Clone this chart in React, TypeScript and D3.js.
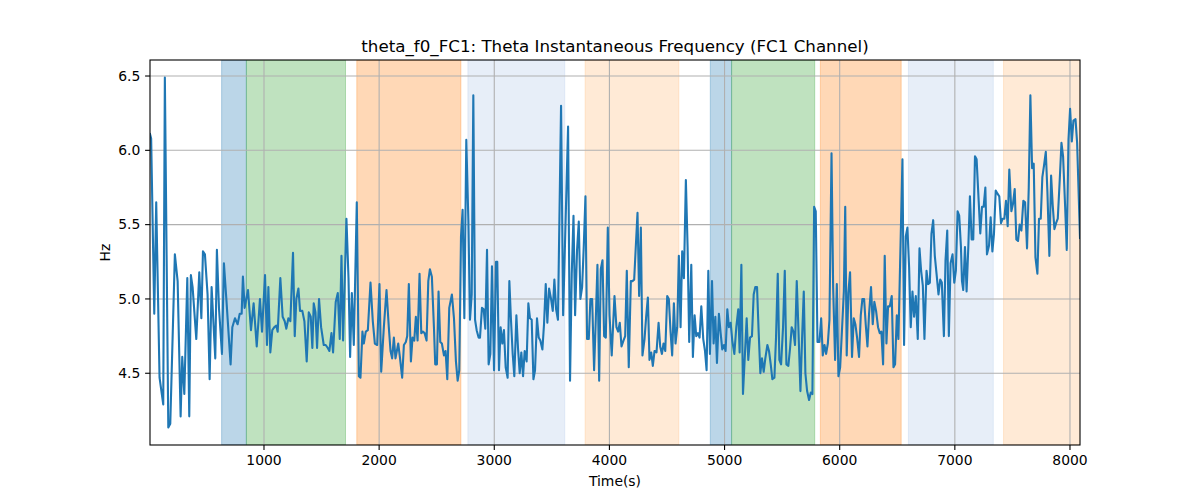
import { useEffect } from "react"
import * as d3 from "d3"

// time (s), instantaneous frequency (Hz)
const samples: [number, number][] = [
  [10, 6.11], [20, 6.08], [47, 4.9], [64, 5.65], [93, 4.47], [125, 4.29], [139, 6.49], [169, 4.135], [186, 4.16],
  [226, 5.3], [250, 5.12], [276, 4.21], [290, 4.61], [308, 4.36], [334, 5.14], [351, 4.21], [365, 5.16], [380, 5.08],
  [412, 4.73], [438, 5.18], [456, 4.87], [470, 5.32], [487, 5.3], [510, 5.03], [528, 4.46], [545, 5.08], [577, 4.6],
  [591, 5.33], [609, 4.94], [635, 4.63], [652, 5.24], [673, 5.0], [710, 4.56], [725, 4.81], [748, 4.87], [771, 4.83],
  [789, 4.9], [806, 4.9], [817, 5.15], [832, 4.94], [861, 5.06], [887, 4.79], [910, 4.97], [937, 4.68], [965, 5.0],
  [983, 4.78], [1009, 5.16], [1026, 4.69],
  [1038, 5.08], [1055, 4.64], [1072, 4.79], [1090, 4.81], [1107, 4.82], [1119, 4.78], [1142, 5.14], [1162, 4.88],
  [1180, 4.85], [1194, 4.8], [1212, 4.87], [1229, 4.85], [1252, 5.31], [1267, 4.75], [1281, 5.0], [1299, 5.07],
  [1313, 4.92], [1333, 4.92], [1351, 4.85], [1371, 4.58], [1389, 4.91], [1406, 4.88], [1420, 4.67], [1432, 4.97],
  [1447, 4.91], [1461, 4.67], [1478, 5.0], [1496, 4.81], [1519, 4.69], [1536, 4.69], [1554, 4.67], [1568, 4.65],
  [1586, 4.77], [1600, 4.64], [1623, 4.98], [1641, 5.04], [1658, 4.73], [1673, 5.29], [1687, 4.72], [1716, 5.54],
  [1734, 5.14], [1748, 4.61], [1763, 5.04], [1780, 4.69], [1806, 5.65], [1824, 4.48], [1838, 4.47], [1855, 4.78],
  [1867, 4.7], [1884, 4.78], [1902, 4.79], [1925, 5.11], [1945, 4.85], [1963, 4.7], [1983, 4.69], [2003, 5.1],
  [2018, 4.51],
  [2041, 4.81], [2064, 5.06], [2084, 4.81], [2099, 4.65], [2113, 4.6], [2128, 4.74], [2142, 4.6], [2166, 4.7],
  [2180, 4.61], [2200, 4.47], [2215, 4.69], [2232, 4.71], [2244, 4.75], [2258, 5.1], [2276, 4.58], [2290, 4.74],
  [2305, 4.72], [2319, 4.88], [2334, 4.72], [2351, 5.17], [2366, 4.77], [2380, 4.78], [2395, 4.77], [2412, 4.72],
  [2427, 5.12], [2441, 5.2], [2458, 5.15], [2476, 4.81], [2487, 4.56], [2502, 4.56], [2516, 5.05], [2531, 4.71],
  [2545, 4.7], [2563, 4.62], [2577, 4.65], [2592, 4.46], [2609, 4.94], [2632, 5.03], [2650, 4.87], [2667, 4.58],
  [2682, 4.45], [2696, 4.52], [2711, 5.42], [2725, 5.6], [2740, 4.87], [2757, 6.07], [2775, 5.53], [2789, 4.86],
  [2804, 5.03], [2818, 6.37], [2833, 4.86], [2847, 4.79], [2864, 4.74], [2876, 4.74], [2893, 4.94], [2908, 4.93],
  [2922, 4.8], [2937, 5.33], [2951, 4.56], [2966, 4.63], [2980, 5.22], [2998, 4.52], [3015, 5.25], [3026, 5.25],
  [3041, 4.52],
  [3055, 4.81], [3070, 4.7], [3084, 4.79], [3099, 4.54], [3116, 4.47], [3131, 5.12], [3145, 4.86], [3160, 4.63],
  [3174, 4.48], [3192, 4.89], [3206, 4.67], [3221, 4.5], [3235, 4.64], [3250, 4.48], [3264, 4.65], [3281, 4.58],
  [3296, 4.97], [3310, 4.87], [3325, 4.86], [3340, 4.46], [3354, 4.52], [3371, 4.87], [3386, 4.74], [3400, 4.72],
  [3418, 4.66], [3432, 4.83], [3447, 5.1], [3461, 4.84], [3476, 5.07], [3493, 5.0], [3508, 4.92], [3522, 5.13],
  [3537, 4.93], [3553, 4.86], [3580, 6.3], [3598, 4.89], [3641, 6.16], [3658, 4.45], [3673, 5.17], [3688, 5.56],
  [3702, 4.89], [3719, 5.33], [3734, 5.52], [3748, 5.0], [3763, 5.08], [3777, 5.35], [3792, 5.69], [3806, 4.73],
  [3821, 4.73], [3835, 5.0], [3850, 5.0], [3867, 4.52], [3882, 4.87], [3896, 5.23], [3911, 4.45], [3925, 5.2],
  [3940, 5.26], [3954, 4.75], [3969, 4.74], [3986, 5.48], [4001, 4.89], [4020, 4.62], [4044, 5.02],
  [4061, 4.81], [4076, 4.78], [4090, 4.84], [4105, 4.68], [4122, 4.72], [4137, 4.75], [4151, 5.19], [4168, 4.54],
  [4186, 5.12], [4200, 5.12], [4215, 5.13], [4229, 5.35], [4244, 5.58], [4258, 5.02], [4273, 5.48], [4287, 4.62],
  [4305, 4.73], [4319, 4.88], [4334, 5.01], [4348, 4.59], [4363, 4.64], [4377, 4.55], [4392, 4.65], [4409, 4.64],
  [4427, 4.84], [4441, 4.68], [4456, 4.63], [4470, 4.7], [4485, 4.65], [4502, 5.02], [4516, 5.0], [4531, 4.78],
  [4545, 4.62], [4560, 4.97], [4574, 4.7], [4589, 4.81], [4603, 5.29], [4618, 4.81], [4632, 5.32], [4647, 5.14],
  [4664, 5.8], [4679, 5.35], [4693, 4.71], [4711, 5.23], [4725, 4.61], [4740, 4.89], [4754, 4.75], [4769, 4.77],
  [4783, 4.74], [4798, 4.95], [4815, 4.73], [4830, 4.65], [4844, 4.52], [4859, 5.19], [4873, 4.63], [4891, 5.12],
  [4905, 4.7], [4920, 4.88], [4934, 4.57], [4951, 4.9], [4966, 4.77], [4980, 4.66], [4995, 4.69], [5009, 4.65],
  [5024, 4.93],
  [5038, 4.81], [5053, 4.84], [5067, 4.72], [5085, 4.63], [5102, 4.81], [5119, 4.93], [5131, 4.64], [5146, 5.23],
  [5160, 4.36], [5177, 4.63], [5192, 4.87], [5206, 4.59], [5221, 4.74], [5238, 4.75], [5253, 5.03], [5267, 5.08],
  [5282, 5.08], [5296, 4.78], [5311, 4.5], [5325, 4.6], [5340, 4.51], [5354, 4.6], [5372, 4.69], [5386, 4.65],
  [5401, 4.56], [5415, 4.46], [5433, 4.47], [5447, 4.74], [5462, 5.17], [5476, 4.59], [5491, 4.56], [5508, 4.81],
  [5523, 5.19], [5537, 4.56], [5554, 4.55], [5569, 4.67], [5583, 4.81], [5598, 4.78], [5612, 4.69], [5627, 5.12],
  [5641, 4.81], [5659, 4.38], [5673, 4.73], [5688, 5.05], [5702, 4.5], [5717, 4.38], [5734, 4.32], [5749, 4.37],
  [5763, 4.36], [5778, 5.62], [5792, 5.59], [5807, 4.71], [5824, 4.71], [5839, 4.87], [5853, 4.62], [5868, 4.69],
  [5882, 4.63], [5897, 4.7], [5911, 4.86], [5929, 5.98], [5943, 5.08], [5960, 4.59], [5975, 5.1], [5989, 4.48],
  [6004, 4.54], [6021, 4.81], [6036, 5.05], [6048, 5.62],
  [6061, 4.62], [6075, 5.04], [6090, 5.18], [6107, 4.61], [6122, 4.87], [6136, 4.83], [6151, 4.74], [6168, 4.61],
  [6183, 4.89], [6197, 5.0], [6212, 5.0], [6226, 4.83], [6241, 4.68], [6255, 4.9], [6272, 5.08], [6287, 4.83],
  [6301, 4.98], [6316, 4.92], [6333, 4.81], [6348, 4.77], [6362, 4.78], [6377, 4.56], [6391, 5.29], [6406, 4.7],
  [6420, 4.95], [6435, 4.95], [6452, 5.02], [6467, 4.54], [6481, 4.56], [6496, 4.89], [6510, 4.73], [6525, 5.25],
  [6545, 5.94], [6559, 4.69], [6574, 5.42], [6588, 5.48], [6603, 5.21], [6617, 4.81], [6632, 5.05], [6646, 4.88],
  [6661, 5.02], [6678, 4.73], [6693, 5.34], [6707, 5.19], [6722, 5.09], [6736, 4.73], [6754, 5.19], [6768, 5.1],
  [6783, 5.11], [6797, 5.44], [6812, 5.53], [6826, 5.29], [6841, 5.17], [6858, 5.03], [6873, 5.13], [6887, 5.11],
  [6905, 4.75], [6919, 5.26], [6934, 5.46], [6948, 4.75], [6963, 5.24], [6980, 5.3], [6995, 5.11], [7009, 5.19],
  [7024, 5.59], [7038, 5.56], [7053, 5.35], [7062, 5.12],
  [7073, 5.06], [7088, 5.35], [7102, 5.05], [7117, 5.35], [7131, 5.69], [7146, 5.4], [7160, 5.4], [7175, 5.96],
  [7189, 5.94], [7207, 5.66], [7221, 5.44], [7236, 5.62], [7250, 5.62], [7265, 5.75], [7279, 5.3], [7297, 5.36],
  [7311, 5.55], [7326, 5.32], [7340, 5.44], [7355, 5.73], [7369, 5.71], [7386, 5.69], [7401, 5.51], [7415, 5.54],
  [7430, 5.54], [7444, 5.66], [7459, 5.49], [7473, 5.87], [7491, 5.59], [7505, 5.64], [7520, 5.74], [7534, 5.4],
  [7549, 5.39], [7563, 5.5], [7578, 5.46], [7595, 5.66], [7610, 5.65], [7627, 5.34], [7642, 5.75], [7656, 6.37],
  [7671, 5.88], [7685, 5.91], [7700, 5.28], [7717, 5.17], [7731, 5.54], [7746, 5.54], [7760, 5.82], [7775, 5.9],
  [7790, 5.99], [7804, 5.72], [7821, 5.29], [7836, 5.83], [7850, 5.63], [7865, 5.47], [7879, 5.51], [7894, 5.54],
  [7911, 5.8], [7926, 6.05], [7940, 5.96], [7958, 5.62], [7972, 5.33], [7987, 6.07], [8001, 6.28], [8016, 6.06],
  [8030, 6.2], [8048, 6.21], [8062, 6.05], [8087, 5.41],
]

// shaded phases: start, end, colour, opacity
const spans: [number, number, string, number][] = [
  [632, 847, "#1f77b4", 0.3],
  [847, 1708, "#2ca02c", 0.3],
  [1806, 2710, "#ff7f0e", 0.3],
  [2771, 3612, "#aec7e8", 0.3],
  [3789, 4603, "#ffbb78", 0.3],
  [4876, 5061, "#1f77b4", 0.3],
  [5061, 5783, "#2ca02c", 0.3],
  [5832, 6534, "#ff7f0e", 0.3],
  [6597, 7334, "#aec7e8", 0.3],
  [7423, 8120, "#ffbb78", 0.3],
]

const xTicks = [1000, 2000, 3000, 4000, 5000, 6000, 7000, 8000]
const yTicks = [4.5, 5.0, 5.5, 6.0, 6.5]

const title = "theta_f0_FC1: Theta Instantaneous Frequency (FC1 Channel)"

const W = 1200
const H = 500
const left = 150
const right = 1080
const top = 60
const bottom = 445

export default function App() {
  useEffect(() => {
    document.body.style.margin = "0"
  }, [])

  const x = d3
    .scaleLinear()
    .domain([samples[0][0], samples[samples.length - 1][0]])
    .range([left, right])
  const [lo, hi] = d3.extent(samples, (d) => d[1]) as [number, number]
  const pad = (hi - lo) * 0.05
  const y = d3.scaleLinear().domain([lo - pad, hi + pad]).range([bottom, top])

  const line = d3
    .line<[number, number]>()
    .x((d) => x(d[0]))
    .y((d) => y(d[1]))

  const font = "DejaVu Sans, sans-serif"

  return (
    <svg width={W} height={H} style={{ display: "block", background: "#fff" }} fontFamily={font}>
      <defs>
        <clipPath id="plot">
          <rect x={left} y={top} width={right - left} height={bottom - top} />
        </clipPath>
      </defs>
      <g clipPath="url(#plot)">
        {spans.map(([a, b, c, o], i) => (
          <rect
            key={i}
            x={x(a)}
            y={top}
            width={x(b) - x(a)}
            height={bottom - top}
            fill={c}
            fillOpacity={o}
            stroke={c}
            strokeOpacity={o}
            strokeWidth={1}
          />
        ))}
      </g>
      <g stroke="#b0b0b0" strokeWidth={1.1}>
        {xTicks.map((t) => (
          <line key={t} x1={x(t)} x2={x(t)} y1={top} y2={bottom} />
        ))}
        {yTicks.map((t) => (
          <line key={t} x1={left} x2={right} y1={y(t)} y2={y(t)} />
        ))}
      </g>
      <path
        d={line(samples) ?? ""}
        fill="none"
        stroke="#1f77b4"
        strokeWidth={2.1}
        strokeLinejoin="round"
        strokeLinecap="square"
        clipPath="url(#plot)"
      />
      <rect x={left} y={top} width={right - left} height={bottom - top} fill="none" stroke="#000" strokeWidth={1.1} />
      <g fontSize={13.9} fill="#000">
        {xTicks.map((t) => (
          <g key={t}>
            <line x1={x(t)} x2={x(t)} y1={bottom} y2={bottom + 4.9} stroke="#000" strokeWidth={1.1} />
            <text x={x(t)} y={bottom + 9.7} dy="0.76em" textAnchor="middle">
              {t}
            </text>
          </g>
        ))}
        {yTicks.map((t) => (
          <g key={t}>
            <line x1={left - 4.9} x2={left} y1={y(t)} y2={y(t)} stroke="#000" strokeWidth={1.1} />
            <text x={left - 9.7} y={y(t)} dy="0.35em" textAnchor="end">
              {d3.format(".1f")(t)}
            </text>
          </g>
        ))}
      </g>
      <text x={(left + right) / 2} y={486} textAnchor="middle" fontSize={13.9}>
        Time(s)
      </text>
      <text transform={`translate(110,${(top + bottom) / 2}) rotate(-90)`} textAnchor="middle" fontSize={13.9}>
        Hz
      </text>
      <text x={(left + right) / 2} y={top - 8.3} textAnchor="middle" fontSize={16.7}>
        {title}
      </text>
    </svg>
  )
}
